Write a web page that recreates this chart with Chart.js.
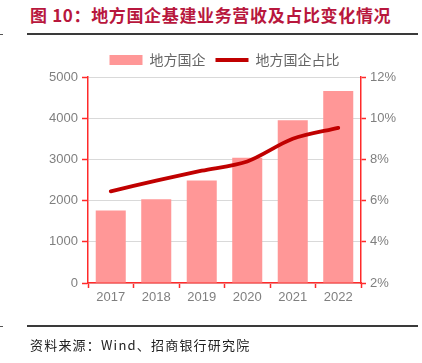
<!DOCTYPE html>
<html><head><meta charset="utf-8">
<script src="https://cdn.jsdelivr.net/npm/chart.js@4/dist/chart.umd.min.js"></script>
<style>
html,body{margin:0;padding:0;background:#fff;}
#wrap{position:relative;width:422px;height:363px;overflow:hidden;}
#title{position:absolute;left:30px;top:4px;font-family:"Noto Sans CJK SC";font-weight:bold;font-size:17px;color:#B8173D;white-space:nowrap;line-height:22px;letter-spacing:0.65px;}
.rule{position:absolute;left:27px;width:391px;height:2px;background:#3a3a3a;}
.dash{position:absolute;left:0;width:3px;height:1px;background:#555;}
#foot{position:absolute;left:30px;top:336px;font-family:"Noto Sans CJK SC";font-size:13px;color:#222;letter-spacing:1.2px;white-space:nowrap;line-height:18px;}
#c{position:absolute;left:0;top:0;}
</style></head>
<body><div id="wrap">
<div id="title">图 10：地方国企基建业务营收及占比变化情况</div>
<div class="rule" style="top:33px"></div>
<div class="dash" style="top:34px"></div>
<canvas id="c" width="422" height="363"></canvas>
<div class="rule" style="top:325px"></div>
<div class="dash" style="top:326px"></div>
<div id="foot">资料来源：Wind、招商银行研究院</div>
</div>
<script>
const categories = ["2017","2018","2019","2020","2021","2022"];
const revenue = [1760, 2030, 2490, 3040, 3950, 4660];
const share = [6.45, 6.97, 7.45, 7.9, 9.0, 9.53];
const leftTicks = [0,1000,2000,3000,4000,5000];
const rightTicks = [2,4,6,8,10,12];
const seriesNames = ["地方国企","地方国企占比"];

const RED = "#FF2A2A";
const tickFont = {family:"'Liberation Sans', Arial, sans-serif", size:13};
const centerLegend = {
  id:'centerLegend',
  afterUpdate(chart){
    const lg = chart.legend, ca = chart.chartArea;
    if (lg && ca) { lg.left = ca.left; lg.right = ca.right; lg.adjustHitBoxes && lg.adjustHitBoxes(); }
  }
};
new Chart(document.getElementById('c'), {
  data: {
    labels: categories,
    datasets: [
      {type:'bar', label:seriesNames[0], data:revenue, backgroundColor:'#FF9797', yAxisID:'y', order:1,
       barPercentage:0.66, categoryPercentage:1},
      {type:'line', label:seriesNames[1], data:share, borderColor:'#C00000', backgroundColor:'#C00000', borderWidth:3.8,
       pointRadius:0, tension:0.3, yAxisID:'y1', order:0, borderCapStyle:'round'}
    ]
  },
  plugins:[centerLegend],
  options: {
    responsive:false, animation:false,
    layout:{padding:{left:0,right:0,top:43,bottom:50}},
    plugins:{
      tooltip:{enabled:false},
      legend:{display:true, position:'top',
        labels:{usePointStyle:true, pointStyleWidth:33, boxHeight:10, padding:10,
          font:{family:"'Noto Sans CJK SC'", size:14}, color:'#666',
          generateLabels(chart){
            return chart.data.datasets.map((d,i)=>({
              text:d.label, fillStyle:d.type==='bar'?d.backgroundColor:d.borderColor,
              strokeStyle:d.type==='bar'?d.backgroundColor:d.borderColor,
              lineWidth:d.type==='bar'?0:3.8,
              pointStyle:d.type==='bar'?'rect':'line', datasetIndex:i, hidden:false, fontColor:'#666'
            }));
          }}}
    },
    scales:{
      x:{offset:true,
         grid:{offset:true, drawOnChartArea:false, tickColor:RED, tickLength:5, tickWidth:1.5},
         border:{color:RED, width:1.5},
         ticks:{font:tickFont, color:'#7f7f7f', padding:2},
         afterFit(s){s.height=30;}},
      y:{position:'left', min:0, max:5000,
         afterBuildTicks(s){s.ticks=leftTicks.map(v=>({value:v}));},
         grid:{color:'#D9D9D9', tickColor:RED, tickLength:6, tickWidth:1.5},
         border:{color:RED, width:1.5},
         ticks:{font:tickFont, color:'#7f7f7f', padding:4, callback:v=>String(v)},
         afterFit(s){s.width=88;}},
      y1:{position:'right', min:2, max:12,
         afterBuildTicks(s){s.ticks=rightTicks.map(v=>({value:v}));},
         grid:{drawOnChartArea:false, tickColor:RED, tickLength:5, tickWidth:1.5},
         border:{color:RED, width:1.5},
         ticks:{font:tickFont, color:'#7f7f7f', padding:4, callback:v=>v+'%'},
         afterFit(s){s.width=61;}}
    }
  }
});
</script>
</body></html>
